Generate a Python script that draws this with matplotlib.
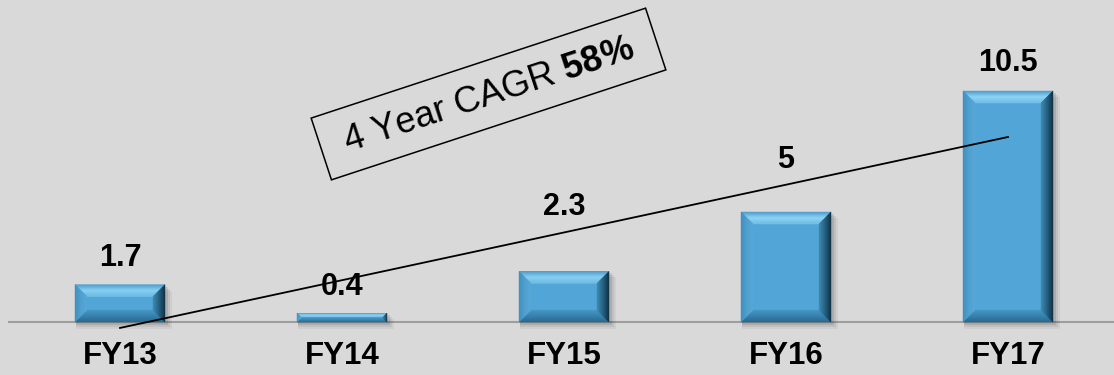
import numpy as np
import matplotlib.pyplot as plt
from matplotlib.patches import Polygon, Rectangle
from matplotlib.colors import to_rgb
from matplotlib.transforms import Affine2D

plt.rcParams['font.family'] = ['Liberation Sans', 'DejaVu Sans']
plt.rcParams['mathtext.fontset'] = 'custom'
plt.rcParams['mathtext.rm'] = 'Liberation Sans'
plt.rcParams['mathtext.bf'] = 'Liberation Sans:bold'

# Revenue by fiscal year
years = ["FY13", "FY14", "FY15", "FY16", "FY17"]
values = [1.7, 0.4, 2.3, 5, 10.5]
# Trend line end points (value at first and last year)
trend = [-0.27, 8.41]
cagr_text = "4 Year CAGR "
cagr_value = "58%"

# value label lift above the bar top, in pixels
label_lift = [27, 26, 64, 52, 28]

bg = '#d9d9d9'
face = '#52a6d7'
# colour stops from outer edge to inner edge of each bevel
bevel_cols = {
    'top': ['#4b9acb', '#8ed3f4', '#6fbde6'],
    'left': ['#3f8fbf', '#4f9fcf', '#57a7d8'],
    'right': ['#0f2f42', '#24607f', '#3f88b2'],
    'bottom': ['#2a678b', '#3581ad', '#4596c6'],
}

fig = plt.figure(figsize=(11.14, 3.75), dpi=100)
fig.patch.set_facecolor(bg)
ax = fig.add_axes([0, 0, 1, 1])
ax.set_facecolor(bg)
ax.axis('off')

px_x = 222.0   # pixels per category step
px_y = 22.0    # pixels per unit of value
ax.set_xlim(-120 / px_x, (1114 - 120) / px_x)
ax.set_ylim(-(375 - 322) / px_y, 322 / px_y)

x = np.arange(len(years))
width = 90 / px_x

# baseline
ax.axhline(0, xmin=9 / 1114, xmax=1, color='#9e9e9e', lw=1.5, zorder=1)

# soft drop shadow under each bar
for xi, v in zip(x, values):
    for k, a in zip([6, 4, 2], [0.06, 0.08, 0.12]):
        ax.add_patch(Rectangle((xi - width / 2 + 1 / px_x, -k / px_y - 1 / px_y),
                               width + k / px_x, v + 1 / px_y,
                               facecolor='#202020', alpha=a, lw=0, zorder=1.5))

bars = ax.bar(x, values, width=width, color=face, zorder=2)


def lerp(p, q, t):
    return (p[0] + (q[0] - p[0]) * t, p[1] + (q[1] - p[1]) * t)


def shade(stops, t):
    stops = [np.array(to_rgb(c)) for c in stops]
    pos = t * (len(stops) - 1)
    i = min(int(pos), len(stops) - 2)
    f = pos - i
    return tuple(stops[i] * (1 - f) + stops[i + 1] * f)


# bevelled edges, each drawn as a stack of thin bands for a gradient
n_bands = 12
for b in bars:
    x0, y0 = b.get_x(), 0
    x1, y1 = x0 + b.get_width(), b.get_height()
    bp = min(12, y1 * px_y / 2)
    bx, by = bp / px_x, bp / px_y
    sides = {
        'top': ((x0, y1), (x1, y1), (x1 - bx, y1 - by), (x0 + bx, y1 - by)),
        'bottom': ((x0, y0), (x1, y0), (x1 - bx, y0 + by), (x0 + bx, y0 + by)),
        'left': ((x0, y0), (x0, y1), (x0 + bx, y1 - by), (x0 + bx, y0 + by)),
        'right': ((x1, y0), (x1, y1), (x1 - bx, y1 - by), (x1 - bx, y0 + by)),
    }
    for name, (a, c, ci, ai) in sides.items():
        for k in range(n_bands):
            t0, t1 = k / n_bands, (k + 1) / n_bands
            pts = [lerp(a, ai, t0), lerp(c, ci, t0), lerp(c, ci, t1), lerp(a, ai, t1)]
            col = shade(bevel_cols[name], (k + 0.5) / n_bands)
            ax.add_patch(Polygon(pts, closed=True, facecolor=col, edgecolor=col,
                                 lw=0.3, zorder=3))

# value labels
for xi, v, lift in zip(x, values, label_lift):
    ax.annotate(f"{v:g}", (xi, v), xytext=(0, lift * 0.72), textcoords='offset points',
                ha='center', va='center', fontsize=22, fontweight='bold', zorder=5)

# category labels
for xi, name in zip(x, years):
    ax.annotate(name, (xi, 0), xytext=(0, -34 * 0.72), textcoords='offset points',
                ha='center', va='center', fontsize=22.5, fontweight='bold', zorder=5)

# trend line
ax.plot([x[0], x[-1]], trend, color='black', lw=1.3, zorder=4)

# rotated CAGR callout, box laid out in figure pixels
cx, cy, ang = 488.5, 375 - 94, 18.2
to_fig = Affine2D().scale(1 / fig.dpi) + fig.dpi_scale_trans
box = Rectangle((-176, -32.5), 352, 65, fill=False, edgecolor='black', lw=1.1,
                transform=Affine2D().rotate_deg(ang).translate(cx, cy) + to_fig, zorder=6)
fig.add_artist(box)
fig.text(cx / 1114, (cy - 2) / 375,
         cagr_text + r"$\bf{" + cagr_value.replace('%', r'\%') + "}$",
         rotation=ang, rotation_mode='anchor', ha='center', va='center',
         fontsize=26, zorder=6)

fig.savefig('out.png', dpi=100, facecolor=bg)
